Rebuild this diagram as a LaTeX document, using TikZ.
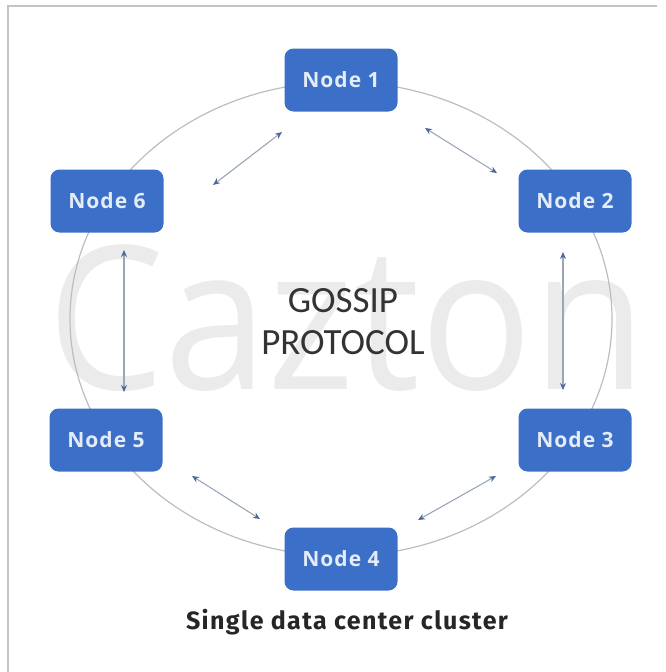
\documentclass[tikz,border=0pt]{standalone}
\usepackage{fontspec}
\setmainfont{Open Sans}
\newfontfamily\nodefont[LetterSpace=5]{Open Sans}
\newfontfamily\titlefont{Carlito}
\newfontfamily\capfont[LetterSpace=5.5]{Fira Sans}
\usetikzlibrary{arrows.meta,calc}
\definecolor{nodeblue}{HTML}{3C6FC8}
\definecolor{nodetext}{HTML}{E4ECF8}
\definecolor{ringgray}{HTML}{B9BDC5}
\definecolor{arrline}{HTML}{9AA6B8}
\definecolor{arrtip}{HTML}{4A689C}
\definecolor{framegray}{HTML}{C4C4C4}
\definecolor{markgray}{HTML}{EBEBEB}
\tikzset{
  peer/.style={draw=none, fill=nodeblue, rounded corners=9pt,
    minimum width=113pt, minimum height=63pt, inner sep=0pt,
    text=nodetext, font=\nodefont\bfseries\fontsize{21}{24}\selectfont},
  gossip/.style={draw=arrline, line width=1.1pt,
    {Stealth[length=7pt,width=6pt,color=arrtip]}-{Stealth[length=7pt,width=6pt,color=arrtip]}},
  ring/.style={draw=ringgray, line width=1.2pt}
}
\begin{document}
\begin{tikzpicture}[x=1pt,y=-1pt]
\useasboundingbox (0,0) rectangle (665,672);
% frame on the top and left
\draw[framegray, line width=2pt] (8,672) -- (8,6) -- (657,6);
% watermark
\node[text=markgray, font=\fontsize{200}{200}\selectfont, inner sep=0pt, xscale=0.93] (mark) at (347,318) {Cazton};
% ring through the cluster
\draw[ring] (341,319) ellipse [x radius=271, y radius=237];
% cluster members
\node[peer] (n1) at (341,80)  {Node 1};
\node[peer] (n2) at (575,201) {Node 2};
\node[peer] (n3) at (575,440) {Node 3};
\node[peer] (n4) at (341,559) {Node 4};
\node[peer] (n5) at (106,440) {Node 5};
\node[peer] (n6) at (107,201) {Node 6};
% title in the middle
\node[font=\titlefont\fontsize{37}{42}\selectfont, text=black!80, align=center, inner sep=0pt] (title) at (343,322) {GOSSIP\\PROTOCOL};
% caption
\node[font=\capfont\bfseries\fontsize{25}{28}\selectfont, text=black!85, inner sep=0pt] (caption) at (347,622) {Single data center cluster};
% gossip exchanges between neighbours
\draw[gossip] ($(n1)+(-59,52)$) -- ($(n6)+(106,-16)$);
\draw[gossip] ($(n1)+(84,48)$) -- ($(n2)+(-78,-28)$);
\draw[gossip] ($(n2)+(-12,51)$) -- ($(n3)+(-12,-50)$);
\draw[gossip] ($(n6)+(17,49)$) -- ($(n5)+(18,-48)$);
\draw[gossip] ($(n5)+(86,36)$) -- ($(n4)+(-81,-40)$);
\draw[gossip] ($(n4)+(77,-39)$) -- ($(n3)+(-79,36)$);
\end{tikzpicture}
\end{document}
